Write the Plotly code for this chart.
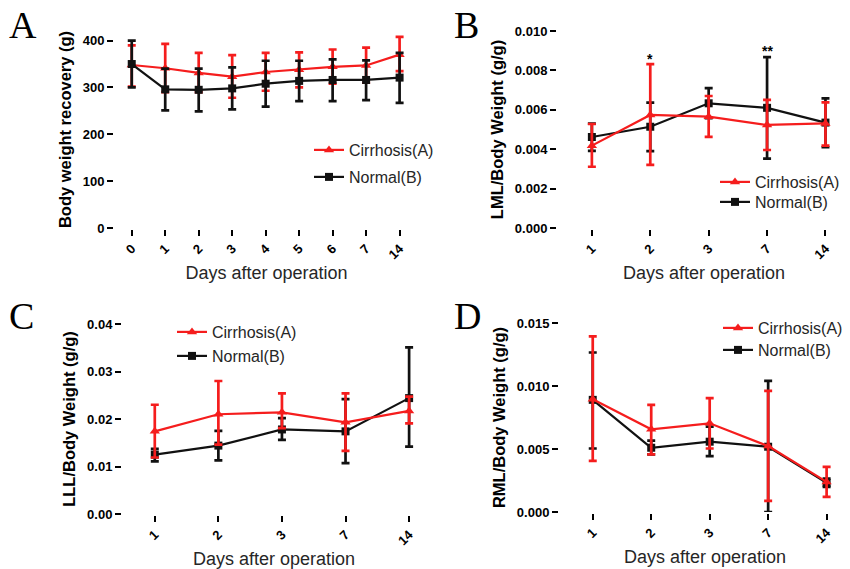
import plotly.graph_objects as go

W, H = 850, 569

# ---------------- data ----------------
days_A = ["0", "1", "2", "3", "4", "5", "6", "7", "14"]
days_BCD = ["1", "2", "3", "7", "14"]

# Panel A: body weight recovery (g)
A_cirr_mean = [348, 341, 331, 323, 333, 338, 344, 347, 370]
A_cirr_upper = [390, 393, 374, 369, 374, 375, 381, 385, 408]
A_cirr_lower = [302, 290, 290, 278, 293, 300, 308, 310, 335]
A_norm_mean = [350, 296, 295, 298, 308, 314, 316, 316, 321]
A_norm_upper = [400, 340, 340, 343, 357, 357, 360, 358, 374]
A_norm_lower = [300, 251, 249, 253, 259, 271, 271, 273, 267]

# Panel B: LML / body weight (g/g)
B_cirr_mean = [0.00418, 0.00574, 0.00565, 0.00523, 0.00531]
B_cirr_upper = [0.00528, 0.00832, 0.00670, 0.00650, 0.00638]
B_cirr_lower = [0.00311, 0.00320, 0.00463, 0.00396, 0.00418]
B_norm_mean = [0.00462, 0.00514, 0.00633, 0.00610, 0.00535]
B_norm_upper = [0.00530, 0.00636, 0.00710, 0.00867, 0.00658]
B_norm_lower = [0.00392, 0.00390, 0.00557, 0.00352, 0.00410]

# Panel C: LLL / body weight (g/g)
C_cirr_mean = [0.0174, 0.0210, 0.0214, 0.0193, 0.0217]
C_cirr_upper = [0.0230, 0.0280, 0.0254, 0.0254, 0.0247]
C_cirr_lower = [0.0119, 0.0146, 0.0181, 0.0133, 0.0191]
C_norm_mean = [0.0125, 0.0144, 0.0178, 0.0174, 0.0244]
C_norm_upper = [0.0137, 0.0175, 0.0202, 0.0242, 0.0351]
C_norm_lower = [0.0111, 0.0113, 0.0156, 0.0107, 0.0142]

# Panel D: RML / body weight (g/g)
D_cirr_mean = [0.00895, 0.00656, 0.00704, 0.00523, 0.00239]
D_cirr_upper = [0.01394, 0.00850, 0.00903, 0.00961, 0.00358]
D_cirr_lower = [0.00406, 0.00457, 0.00504, 0.00088, 0.00120]
D_norm_mean = [0.00890, 0.00510, 0.00558, 0.00518, 0.00231]
D_norm_upper = [0.01266, 0.00566, 0.00677, 0.01041, 0.00265]
D_norm_lower = [0.00504, 0.00457, 0.00443, 0.00000, 0.00200]

series_names = ["Cirrhosis(A)", "Normal(B)"]
panel_letters = ["A", "B", "C", "D"]
y_titles = ["Body weight recovery (g)", "LML/Body Weight (g/g)",
            "LLL/Body Weight (g/g)", "RML/Body Weight (g/g)"]
x_title = "Days after operation"

# significance marks in panel B
sig_text = ["*", "**"]
sig_day = ["2", "7"]
sig_y = [0.0086, 0.0090]

# ---------------- style ----------------
RED = "#f51d1d"
BLACK = "#111111"
SANS = "Liberation Sans, Arial, sans-serif"
SERIF = "Liberation Serif, Times New Roman, serif"


def px_x(v):
    return v / W


def px_y(v):
    return 1 - v / H


fig = go.Figure()

panels = [
    dict(cats=days_A,
         cirr=(A_cirr_mean, A_cirr_upper, A_cirr_lower),
         norm=(A_norm_mean, A_norm_upper, A_norm_lower),
         xd=(115, 418), yd=(228, 31), xr=[-0.5, 8.55], yr=[0, 420.5],
         dtick=100, fmt="d", leg=(349, 150, 177), red_top=False),
    dict(cats=days_BCD,
         cirr=(B_cirr_mean, B_cirr_upper, B_cirr_lower),
         norm=(B_norm_mean, B_norm_upper, B_norm_lower),
         xd=(558, 850), yd=(228, 31), xr=[-0.58, 4.42], yr=[0, 0.010],
         dtick=0.002, fmt=".3f", leg=(755, 182, 202), red_top=True),
    dict(cats=days_BCD,
         cirr=(C_cirr_mean, C_cirr_upper, C_cirr_lower),
         norm=(C_norm_mean, C_norm_upper, C_norm_lower),
         xd=(123, 425), yd=(514, 324), xr=[-0.5, 4.25], yr=[0, 0.04],
         dtick=0.01, fmt=".2f", leg=(212, 332, 356), red_top=True),
    dict(cats=days_BCD,
         cirr=(D_cirr_mean, D_cirr_upper, D_cirr_lower),
         norm=(D_norm_mean, D_norm_upper, D_norm_lower),
         xd=(560, 850), yd=(512, 323), xr=[-0.56, 4.4], yr=[0, 0.015],
         dtick=0.005, fmt=".3f", leg=(758, 328, 350), red_top=True),
]

layout_extra = {}
leg_count = 0
for i, p in enumerate(panels):
    n = i + 1
    xa = "x" if n == 1 else f"x{n}"
    ya = "y" if n == 1 else f"y{n}"
    textx, row1, row2 = p["leg"]

    def mk(stats, name, color, symbol, size, z, rowy):
        global leg_count
        leg_count += 1
        leg = "legend" if leg_count == 1 else f"legend{leg_count}"
        layout_extra[leg] = dict(
            x=px_x(textx - 40), y=px_y(rowy),
            xanchor="left", yanchor="middle", bgcolor="rgba(0,0,0,0)",
            font=dict(family=SANS, size=16, color="#262626"),
            itemwidth=30,
        )
        mean, up, lo = stats
        return go.Scatter(
            x=p["cats"], y=mean, name=name, mode="lines+markers",
            xaxis=xa, yaxis=ya, legend=leg, zorder=z,
            line=dict(color=color, width=2.2),
            marker=dict(color=color, symbol=symbol, size=size),
            error_y=dict(type="data", symmetric=False,
                         array=[u - m for u, m in zip(up, mean)],
                         arrayminus=[m - l for m, l in zip(mean, lo)],
                         color=color, thickness=2.7, width=4),
        )

    zr, zb = (2, 1) if p["red_top"] else (1, 2)
    fig.add_trace(mk(p["cirr"], series_names[0], RED, "triangle-up", 9, zr, row1))
    fig.add_trace(mk(p["norm"], series_names[1], BLACK, "square", 8, zb, row2))

    xkey = "xaxis" if n == 1 else f"xaxis{n}"
    ykey = "yaxis" if n == 1 else f"yaxis{n}"
    layout_extra[xkey] = dict(
        domain=[px_x(p["xd"][0]), px_x(p["xd"][1])],
        anchor=ya, type="category", categoryorder="array",
        categoryarray=p["cats"], range=p["xr"], automargin=False,
        showline=True, linecolor="black", linewidth=2,
        ticks="outside", ticklen=6, tickwidth=2, tickcolor="black",
        tickangle=-45, showgrid=False, zeroline=False,
        tickfont=dict(family=SANS, size=13, color="black", weight="bold"),
        title=dict(text=x_title, font=dict(family=SANS, size=18, color="#262626"),
                   standoff=5),
    )
    layout_extra[ykey] = dict(
        domain=[px_y(p["yd"][0]), px_y(p["yd"][1])],
        anchor=xa, range=p["yr"], dtick=p["dtick"], tick0=0,
        tickformat=p["fmt"], automargin=False,
        showline=True, linecolor="black", linewidth=2,
        ticks="outside", ticklen=6, tickwidth=2, tickcolor="black",
        showgrid=False, zeroline=False,
        tickfont=dict(family=SANS, size=13, color="black", weight="bold"),
        title=dict(text=y_titles[i],
                   font=dict(family=SANS, size=16.5, color="black", weight="bold"),
                   standoff=7),
    )

letters_pos = [(23, 25), (466, 25), (21, 316), (468, 316)]
annotations = []
for letter, (lx, ly) in zip(panel_letters, letters_pos):
    annotations.append(dict(text=letter, x=px_x(lx), y=px_y(ly), xref="paper",
                            yref="paper", xanchor="center", yanchor="middle",
                            showarrow=False,
                            font=dict(family=SERIF, size=38, color="black")))

for t, sd, sy in zip(sig_text, sig_day, sig_y):
    annotations.append(dict(text=t, x=days_BCD.index(sd), y=sy, xref="x2",
                            yref="y2", showarrow=False, yanchor="middle",
                            font=dict(family=SANS, size=14, color="black",
                                      weight="bold")))

fig.update_layout(
    template="none",
    width=W, height=H, margin=dict(l=0, r=0, t=0, b=0, autoexpand=False),
    paper_bgcolor="white", plot_bgcolor="white",
    showlegend=True, annotations=annotations, **layout_extra,
)

fig.write_html(
    "out.html",
    config={"responsive": False, "displayModeBar": False},
    post_script="document.body.style.margin='0px';"
                "document.body.style.overflow='hidden';",
)
